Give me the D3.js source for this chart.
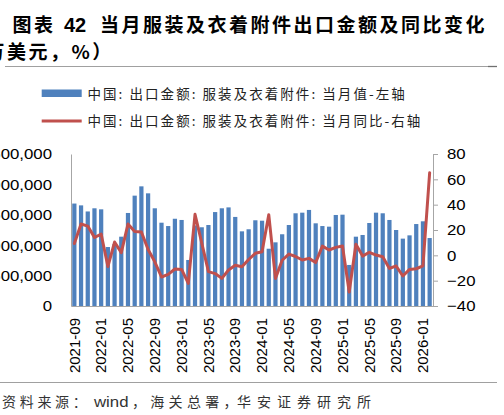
<!DOCTYPE html>
<html><head><meta charset="utf-8">
<script src="https://cdn.jsdelivr.net/npm/d3@7/dist/d3.min.js"></script>
<style>
html,body{margin:0;padding:0;background:#fff;overflow:hidden;}
svg{display:block;}
</style></head>
<body><svg id="c" width="504" height="415"></svg>
<script>
const months = ["2021-09","2021-10","2021-11","2021-12","2022-01","2022-02","2022-03","2022-04","2022-05","2022-06","2022-07","2022-08","2022-09","2022-10","2022-11","2022-12",
"2023-01","2023-02","2023-03","2023-04","2023-05","2023-06","2023-07","2023-08","2023-09","2023-10","2023-11","2023-12",
"2024-01","2024-02","2024-03","2024-04","2024-05","2024-06","2024-07","2024-08","2024-09","2024-10","2024-11","2024-12",
"2025-01","2025-02","2025-03","2025-04","2025-05","2025-06","2025-07","2025-08","2025-09","2025-10","2025-11","2025-12",
"2026-01","2026-02"];
// 当月值 (万美元)
const exportValue = [1685000,1655000,1555000,1607000,1590000,970000,1020000,1140000,1530000,1815000,1968000,1853000,1607000,1370000,1315000,1435000,
1415000,757000,1325000,1295000,1332000,1545000,1607000,1622000,1465000,1228000,1262000,1410000,
1403000,942000,1047000,1180000,1332000,1525000,1535000,1580000,1360000,1315000,1305000,1497000,
1502000,675000,1140000,1168000,1365000,1535000,1525000,1415000,1250000,1108000,1162000,1348000,
1393000,1118000];
// 当月同比 (%)
const yoy = [9.3,24.7,23.1,14.1,16.8,-8.8,10.5,2.1,24.7,18.8,18.4,4.6,-5.1,-17.1,-15.0,-10.8,
-11.1,-22.1,32.4,9.8,-12.9,-14.4,-18.2,-11.6,-7.9,-9.0,-3.3,1.6,
2.8,32.1,-18.2,-3.9,1.0,-0.9,-3.7,-2.4,-5.7,7.3,4.2,6.3,
7.3,-29.0,8.7,-0.6,2.4,0.2,-1.1,-10.3,-8.4,-16.3,-11.1,-10.6,
-8.4,65.2];
const leftTicks = [0,500000,1000000,1500000,2000000,2500000];
const rightTicks = [-40,-20,0,20,40,60,80];
const xTickLabels = months.filter((d,i)=>i%4===0);
const legendLabels = ["中国: 出口金额: 服装及衣着附件: 当月值-左轴","中国: 出口金额: 服装及衣着附件: 当月同比-右轴"];

const svg = d3.select("#c");
const L=71, R=433, T=154, B=306;
const barColor="#4f81bd", lineColor="#c0504d", axisColor="#a6a6a6";
const cjk = "'Noto Sans CJK SC','Noto Sans',sans-serif";
const lat = "'Liberation Sans',Arial,sans-serif";
const SX = 1.12; // horizontal stretch of the reference picture

// Title
const tg = svg.append("g").attr("font-family",cjk).attr("font-weight","bold").attr("fill","#000");
tg.append("text").attr("x",12.5).attr("y",32).attr("font-size",19).attr("letter-spacing",2.5).text("图表");
tg.append("text").attr("x",64).attr("y",32).attr("font-size",20).attr("font-family",lat).text("42");
tg.append("text").attr("x",100).attr("y",32).attr("font-size",19).attr("letter-spacing",2.5).text("当月服装及衣着附件出口金额及同比变化");
tg.append("text").attr("x",-36).attr("y",59).attr("font-size",19).attr("letter-spacing",2.5).text("（万美元，%）");
svg.append("line").attr("x1",5).attr("x2",497).attr("y1",66.5).attr("y2",66.5).attr("stroke","#a0a0a0").attr("stroke-width",1);
svg.append("line").attr("x1",488).attr("x2",497).attr("y1",66.5).attr("y2",66.5).attr("stroke","#707070").attr("stroke-width",1.3);

// Legend
const lg = svg.append("g").attr("font-family",cjk).attr("font-size",13.5).attr("fill","#222").attr("letter-spacing",2.05);
lg.append("rect").attr("x",41.7).attr("y",89.5).attr("width",40).attr("height",7.5).attr("fill",barColor);
lg.append("text").attr("x",87.5).attr("y",99).text(legendLabels[0]);
lg.append("line").attr("x1",41.7).attr("x2",81.7).attr("y1",121).attr("y2",121).attr("stroke",lineColor).attr("stroke-width",3);
lg.append("text").attr("x",87.5).attr("y",126).text(legendLabels[1]);

// Scales
const x = d3.scaleBand().domain(months).range([L,R]).paddingInner(0.37).paddingOuter(0.185);
const yL = d3.scaleLinear().domain([0,2500000]).range([B,T]);
const yR = d3.scaleLinear().domain([-40,80]).range([B,T]);

// Bars
svg.append("g").selectAll("rect").data(months).join("rect")
  .attr("x",d=>x(d)).attr("width",x.bandwidth())
  .attr("y",(d,i)=>yL(exportValue[i])).attr("height",(d,i)=>B-yL(exportValue[i]))
  .attr("fill",barColor);

// Axes
const ax = svg.append("g").attr("transform",`translate(${L},0)`)
  .call(d3.axisLeft(yL).tickValues(leftTicks).tickFormat(d3.format(",")).tickSize(0).tickPadding(19));
const ar = svg.append("g").attr("transform",`translate(${R},0)`)
  .call(d3.axisRight(yR).tickValues(rightTicks).tickSize(5).tickPadding(9));
const ab = svg.append("g").attr("transform",`translate(0,${B})`)
  .call(d3.axisBottom(x).tickValues(xTickLabels).tickSize(0));
ab.selectAll("text").attr("transform","rotate(-90)").attr("x",-12).attr("y",0).attr("dy","0.35em").attr("text-anchor","end");
[ax,ar,ab].forEach(g=>{
  g.selectAll("text").attr("font-family",lat).attr("font-size",15).attr("fill","#000");
  g.select(".domain").attr("stroke",axisColor);
  g.selectAll(".tick line").attr("stroke",axisColor);
});
ax.selectAll("text").attr("x",-19/SX).attr("transform",`scale(${SX},1)`);
ar.selectAll("text").attr("x",14/SX).attr("transform",`scale(${SX},1)`);

// Line
const line = d3.line().x((d,i)=>x(months[i])+x.bandwidth()/2).y(d=>yR(d));
svg.append("path").datum(yoy).attr("d",line).attr("fill","none").attr("stroke",lineColor)
  .attr("stroke-width",3).attr("stroke-linejoin","round").attr("stroke-linecap","round");

// Footer
svg.append("line").attr("x1",0).attr("x2",497).attr("y1",382.5).attr("y2",382.5).attr("stroke","#a0a0a0").attr("stroke-width",1);
const fg = svg.append("g").attr("font-family",cjk).attr("font-size",14).attr("fill","#333");
fg.append("text").attr("x",2).attr("y",407).attr("letter-spacing",3.7).text("资料来源：");
fg.append("text").attr("x",94).attr("y",407).attr("font-family",lat).attr("font-size",15).attr("transform",`translate(${94-94*SX},0) scale(${SX},1)`).text("wind");
fg.append("text").attr("x",132).attr("y",407).attr("letter-spacing",4.3).text("，海关总署，");
fg.append("text").attr("x",237).attr("y",407).attr("letter-spacing",6).text("华安证券研究所");
</script></body></html>
